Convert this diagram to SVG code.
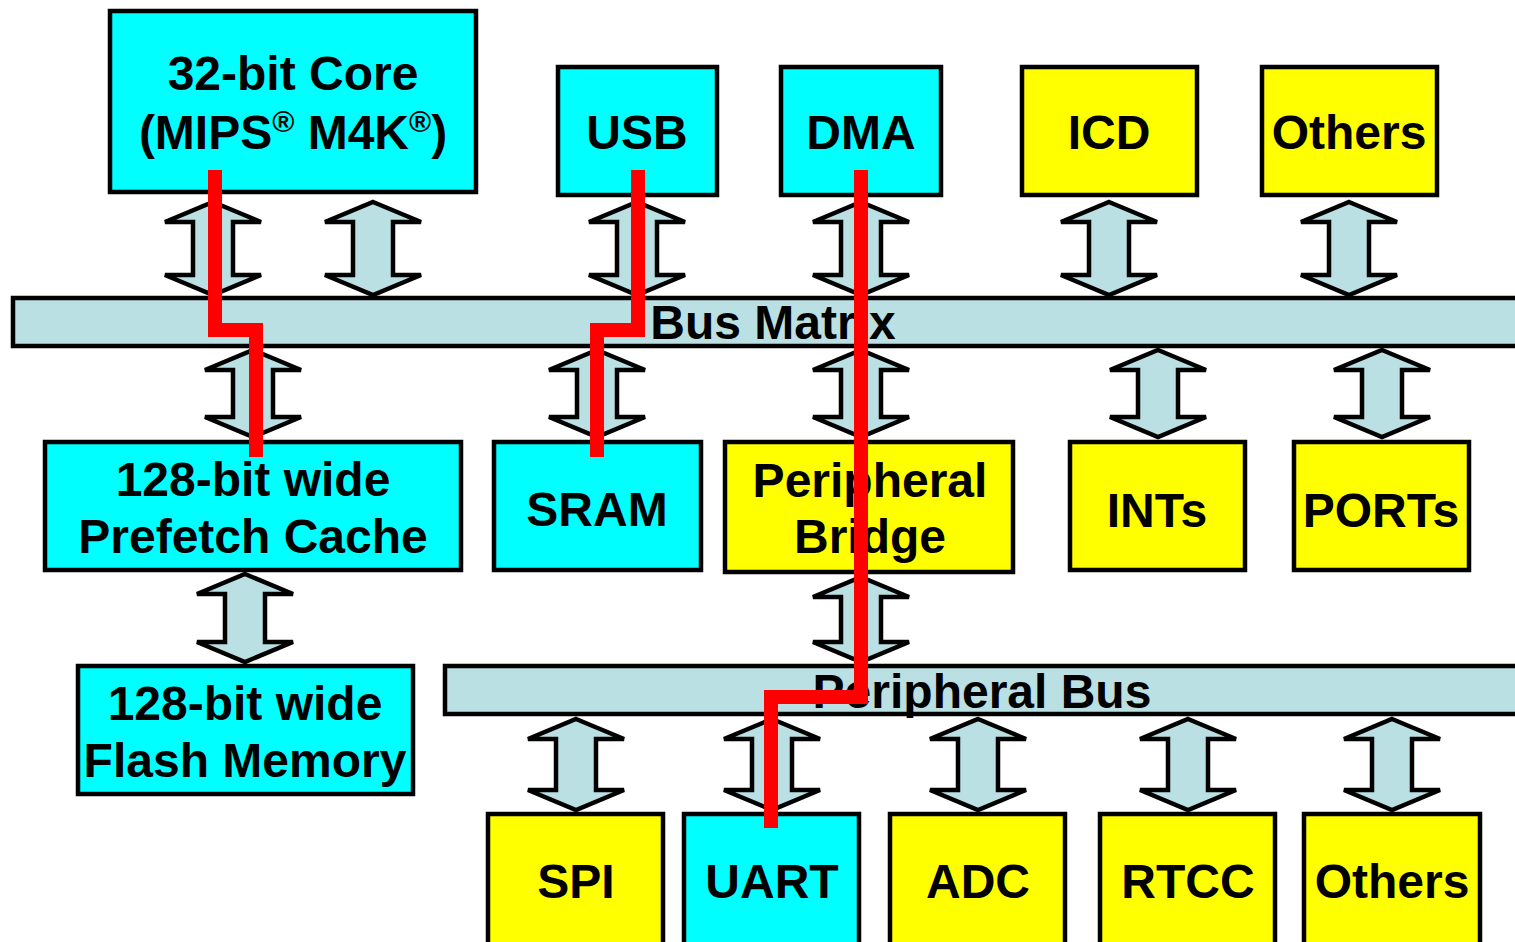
<svg xmlns="http://www.w3.org/2000/svg" width="1515" height="942" viewBox="0 0 1515 942">
<style>
.cy{fill:#00FFFF;stroke:#000;stroke-width:4.5}
.yl{fill:#FFFF00;stroke:#000;stroke-width:4.5}
.bus{fill:#BBE0E3;stroke:#000;stroke-width:4.5}
.arr{fill:#BBE0E3;stroke:#000;stroke-width:4.5;stroke-linejoin:miter}
text{font-family:"Liberation Sans",Arial,sans-serif;font-weight:bold;font-size:48px;fill:#000;text-anchor:middle}
.red{fill:none;stroke:#FF0000;stroke-width:14;stroke-linejoin:miter}
</style>
<rect width="1515" height="942" fill="#fff"/>
<g id="bus-matrix"><rect class="bus" x="13" y="298" width="1520" height="48"/><text x="773" y="339">Bus Matrix</text></g>
<g id="peripheral-bus"><rect class="bus" x="445" y="666" width="1090" height="48"/><text x="982" y="708">Peripheral Bus</text></g>
<g id="core"><rect class="cy" x="110" y="11" width="366" height="181"/><text x="293" y="90">32-bit Core</text><text x="293" y="149">(MIPS<tspan font-size="30" dy="-17">®</tspan><tspan dy="17"> M4K</tspan><tspan font-size="30" dy="-17">®</tspan><tspan dy="17">)</tspan></text></g>
<g id="usb"><rect class="cy" x="558" y="67" width="159" height="128"/><text x="637" y="149">USB</text></g>
<g id="dma"><rect class="cy" x="781" y="67" width="160" height="128"/><text x="861" y="149">DMA</text></g>
<g id="icd"><rect class="yl" x="1022" y="67" width="175" height="128"/><text x="1109" y="149">ICD</text></g>
<g id="others-top"><rect class="yl" x="1262" y="67" width="175" height="128"/><text x="1349" y="149">Others</text></g>
<g id="prefetch"><rect class="cy" x="45" y="442" width="416" height="128"/><text x="253" y="496">128-bit wide</text><text x="253" y="553">Prefetch Cache</text></g>
<g id="sram"><rect class="cy" x="494" y="442" width="207" height="128"/><text x="597" y="526">SRAM</text></g>
<g id="bridge"><rect class="yl" x="725" y="442" width="288" height="130"/><text x="870" y="497">Peripheral</text><text x="870" y="553">Bridge</text></g>
<g id="ints"><rect class="yl" x="1070" y="442" width="175" height="128"/><text x="1157" y="527">INTs</text></g>
<g id="ports"><rect class="yl" x="1294" y="442" width="175" height="128"/><text x="1381" y="527">PORTs</text></g>
<g id="flash"><rect class="cy" x="78" y="666" width="335" height="128"/><text x="245" y="720">128-bit wide</text><text x="245" y="777">Flash Memory</text></g>
<g id="spi"><rect class="yl" x="488" y="814" width="175" height="150"/><text x="576" y="898">SPI</text></g>
<g id="uart"><rect class="cy" x="684" y="814" width="175" height="150"/><text x="772" y="898">UART</text></g>
<g id="adc"><rect class="yl" x="890" y="814" width="175" height="150"/><text x="978" y="898">ADC</text></g>
<g id="rtcc"><rect class="yl" x="1100" y="814" width="175" height="150"/><text x="1188" y="898">RTCC</text></g>
<g id="others-bottom"><rect class="yl" x="1304" y="814" width="176" height="150"/><text x="1392" y="898">Others</text></g>
<g id="connectors">
<path class="arr" d="M213 202 L261 222 H233 V275 H261 L213 295 L165 275 H193 V222 H165 Z"/>
<path class="arr" d="M373 202 L421 222 H393 V275 H421 L373 295 L325 275 H353 V222 H325 Z"/>
<path class="arr" d="M637 202 L685 222 H657 V275 H685 L637 295 L589 275 H617 V222 H589 Z"/>
<path class="arr" d="M861 202 L909 222 H881 V275 H909 L861 295 L813 275 H841 V222 H813 Z"/>
<path class="arr" d="M1109 202 L1157 222 H1129 V275 H1157 L1109 295 L1061 275 H1089 V222 H1061 Z"/>
<path class="arr" d="M1349 202 L1397 222 H1369 V275 H1397 L1349 295 L1301 275 H1329 V222 H1301 Z"/>
<path class="arr" d="M253 350 L301 370 H273 V417 H301 L253 437 L205 417 H233 V370 H205 Z"/>
<path class="arr" d="M597 350 L645 370 H617 V417 H645 L597 437 L549 417 H577 V370 H549 Z"/>
<path class="arr" d="M861 350 L909 370 H881 V417 H909 L861 437 L813 417 H841 V370 H813 Z"/>
<path class="arr" d="M1158 350 L1206 370 H1178 V417 H1206 L1158 437 L1110 417 H1138 V370 H1110 Z"/>
<path class="arr" d="M1382 350 L1430 370 H1402 V417 H1430 L1382 437 L1334 417 H1362 V370 H1334 Z"/>
<path class="arr" d="M245 574 L293 594 H265 V642 H293 L245 662 L197 642 H225 V594 H197 Z"/>
<path class="arr" d="M861 577 L909 597 H881 V642 H909 L861 662 L813 642 H841 V597 H813 Z"/>
<path class="arr" d="M576 719 L624 739 H596 V790 H624 L576 810 L528 790 H556 V739 H528 Z"/>
<path class="arr" d="M772 719 L820 739 H792 V790 H820 L772 810 L724 790 H752 V739 H724 Z"/>
<path class="arr" d="M978 719 L1026 739 H998 V790 H1026 L978 810 L930 790 H958 V739 H930 Z"/>
<path class="arr" d="M1188 719 L1236 739 H1208 V790 H1236 L1188 810 L1140 790 H1168 V739 H1140 Z"/>
<path class="arr" d="M1392 719 L1440 739 H1412 V790 H1440 L1392 810 L1344 790 H1372 V739 H1344 Z"/>
</g>
<g id="highlight">
<path class="red" d="M215 170 V330 H256 V457"/>
<path class="red" d="M638 170 V330 H597 V457"/>
<path class="red" d="M861 170 V697 H771 V828"/>
</g>
</svg>
